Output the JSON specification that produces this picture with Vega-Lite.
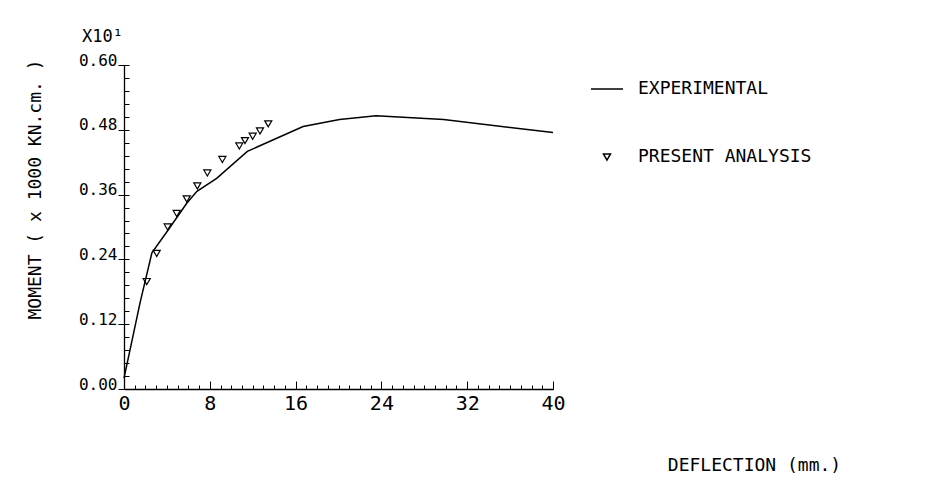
{
  "$schema": "https://vega.github.io/schema/vega-lite/v6.json",
  "width": 429,
  "height": 324,
  "autosize": "none",
  "padding": {"left": 124, "top": 65, "right": 378, "bottom": 95},
  "background": "white",
  "config": {
    "view": {"stroke": null},
    "font": "DejaVu Sans Mono",
    "axis": {"domainColor": "black", "tickColor": "black", "labelColor": "black", "titleColor": "black", "grid": false, "domainWidth": 1.3, "tickWidth": 1, "labelFlush": false, "labelFont": "DejaVu Sans Mono", "titleFont": "DejaVu Sans Mono", "titleFontWeight": "normal"}
  },
  "title": {"text": "X10¹", "anchor": "start", "frame": "group", "dx": -42, "offset": -7, "fontSize": 17, "fontWeight": "normal", "baseline": "alphabetic", "color": "black", "font": "DejaVu Sans Mono"},
  "resolve": {"axis": {"x": "independent", "y": "independent"}},
  "layer": [
    {
      "data": {"values": [
        {"deflection": 0, "moment": 0.02},
        {"deflection": 1.5, "moment": 0.16},
        {"deflection": 2.6, "moment": 0.252},
        {"deflection": 4.1, "moment": 0.294},
        {"deflection": 5.85, "moment": 0.344},
        {"deflection": 6.8, "moment": 0.366},
        {"deflection": 8.64, "moment": 0.39},
        {"deflection": 11.5, "moment": 0.44},
        {"deflection": 16.7, "moment": 0.486},
        {"deflection": 20.1, "moment": 0.499},
        {"deflection": 23.5, "moment": 0.506},
        {"deflection": 29.8, "moment": 0.499},
        {"deflection": 40, "moment": 0.475}
      ]},
      "mark": {"type": "line", "color": "black", "strokeWidth": 1.5},
      "encoding": {
        "x": {"field": "deflection", "type": "quantitative", "scale": {"domain": [0, 40], "nice": false},
          "axis": {"orient": "bottom", "values": [0, 8, 16, 24, 32, 40], "labelFontSize": 20, "tickSize": -8, "labelPadding": 12,
            "title": "DEFLECTION (mm.)", "titleFontSize": 18, "titleX": 630, "titleY": 76, "titleAlign": "center", "titleBaseline": "middle"}},
        "y": {"field": "moment", "type": "quantitative", "scale": {"domain": [0, 0.6], "nice": false},
          "axis": {"orient": "left", "values": [0, 0.12, 0.24, 0.36, 0.48, 0.6], "format": ".2f", "labelFontSize": 16, "labelBaseline": "alphabetic", "tickSize": 6, "labelPadding": 1,
            "title": "MOMENT ( x 1000 KN.cm. )", "titleFontSize": 18, "titleX": -89, "titleY": 124, "titleAngle": -90, "titleAlign": "center", "titleBaseline": "middle"}}
      }
    },
    {
      "data": {"values": [
        {"deflection": 2.12, "moment": 0.199, "series": "PRESENT ANALYSIS"},
        {"deflection": 3.05, "moment": 0.251, "series": "PRESENT ANALYSIS"},
        {"deflection": 4.07, "moment": 0.3, "series": "PRESENT ANALYSIS"},
        {"deflection": 4.91, "moment": 0.325, "series": "PRESENT ANALYSIS"},
        {"deflection": 5.85, "moment": 0.352, "series": "PRESENT ANALYSIS"},
        {"deflection": 6.84, "moment": 0.376, "series": "PRESENT ANALYSIS"},
        {"deflection": 7.77, "moment": 0.4, "series": "PRESENT ANALYSIS"},
        {"deflection": 9.17, "moment": 0.425, "series": "PRESENT ANALYSIS"},
        {"deflection": 10.75, "moment": 0.45, "series": "PRESENT ANALYSIS"},
        {"deflection": 11.28, "moment": 0.46, "series": "PRESENT ANALYSIS"},
        {"deflection": 12.0, "moment": 0.468, "series": "PRESENT ANALYSIS"},
        {"deflection": 12.68, "moment": 0.478, "series": "PRESENT ANALYSIS"},
        {"deflection": 13.45, "moment": 0.491, "series": "PRESENT ANALYSIS"}
      ]},
      "mark": {"type": "point", "filled": false, "color": "black", "strokeWidth": 1.2, "opacity": 1},
      "encoding": {
        "x": {"field": "deflection", "type": "quantitative",
          "axis": {"orient": "bottom", "values": [0,1,2,3,4,5,6,7,8,9,10,11,12,13,14,15,16,17,18,19,20,21,22,23,24,25,26,27,28,29,30,31,32,33,34,35,36,37,38,39,40], "labels": false, "domain": false, "tickSize": -4, "title": null}},
        "y": {"field": "moment", "type": "quantitative",
          "axis": {"orient": "left", "values": [0,0.024,0.048,0.072,0.096,0.12,0.144,0.168,0.192,0.216,0.24,0.264,0.288,0.312,0.336,0.36,0.384,0.408,0.432,0.456,0.48,0.504,0.528,0.552,0.576,0.6], "labels": false, "domain": false, "tickSize": -5, "title": null}},
        "shape": {"field": "series", "type": "ordinal", "scale": {"domain": ["EXPERIMENTAL", "PRESENT ANALYSIS"], "range": ["stroke", "triangle-down"]},
          "legend": {"orient": "none", "legendX": 466, "legendY": 7, "title": null, "labelFont": "DejaVu Sans Mono", "labelFontSize": 18, "labelLimit": 400, "labelColor": "black", "symbolStrokeColor": "black", "symbolFillColor": "transparent", "symbolStrokeWidth": 1.5, "rowPadding": 50, "labelOffset": 14}},
        "size": {"field": "series", "type": "ordinal", "scale": {"domain": ["EXPERIMENTAL", "PRESENT ANALYSIS"], "range": [1024, 50]},
          "legend": {"orient": "none", "legendX": 466, "legendY": 7, "title": null, "labelFont": "DejaVu Sans Mono", "labelFontSize": 18, "labelLimit": 400, "labelColor": "black", "symbolStrokeColor": "black", "symbolFillColor": "transparent", "symbolStrokeWidth": 1.5, "rowPadding": 50, "labelOffset": 14}}
      }
    }
  ]
}
